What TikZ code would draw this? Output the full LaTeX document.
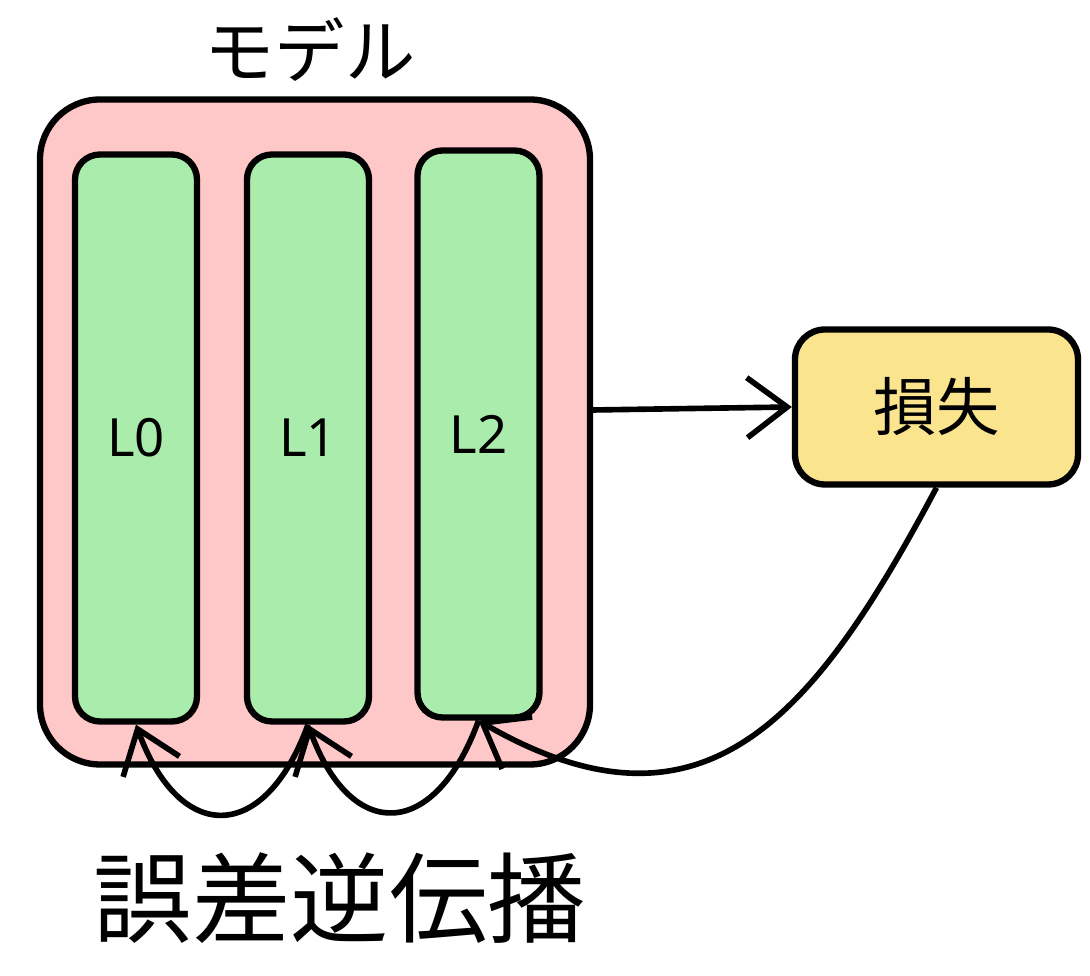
\documentclass[tikz,border=0pt]{standalone}
\usepackage{fontspec}
\setmainfont{Noto Sans}
\newfontfamily\cjk{Noto Sans CJK JP}
\usetikzlibrary{shapes,arrows.meta,positioning}
\definecolor{modelpink}{RGB}{255,200,200}
\definecolor{layergreen}{RGB}{170,236,172}
\definecolor{lossyellow}{RGB}{250,228,142}
\tikzset{
  layer/.style={draw, line width=1.8pt, fill=layergreen, rounded corners=0.25cm, minimum width=1.22cm, minimum height=5.67cm, font=\fontsize{15}{18}\selectfont},
  flow/.style={line width=1.6pt, -{Straight Barb[length=4mm,width=6mm,line width=1.6pt]}}
}
\begin{document}
\begin{tikzpicture}
    \useasboundingbox (0,0) rectangle (10.9,9.76);
    % Model block
    \node [draw, line width=1.8pt, fill=modelpink, rounded corners=0.6cm, minimum width=5.5cm, minimum height=6.65cm] (model) at (3.15,5.44) {};
    \node [font=\cjk\fontsize{20}{24}\selectfont] (title) at (3.1,9.26) {モデル};

    % Layers
    \node [layer] (l0) at (1.36,5.38) {L0};
    \node [layer] (l1) at (3.08,5.38) {L1};
    \node [layer] (l2) at (4.785,5.42) {L2};

    % Loss
    \node [draw, line width=1.8pt, fill=lossyellow, rounded corners=0.3cm, minimum width=2.83cm, minimum height=1.55cm, font=\cjk\fontsize{18}{22}\selectfont] (loss) at (9.365,5.69) {損失};

    % Arrows
    \draw [flow] (model.east |- 0,5.66) -- (loss.west);
    \draw [flow] (loss.south) to[out=-118,in=-30,looseness=1.3] (l2.south);
    \draw [flow] (l2.south) to[out=-110,in=-70,looseness=1.9] (l1.south);
    \draw [flow] (l1.south) to[out=-110,in=-70,looseness=1.9] (l0.south);

    % Label
    \node [font=\cjk\fontsize{28}{34}\selectfont] (bp) at (3.4,0.78) {誤差逆伝播};
\end{tikzpicture}
\end{document}
